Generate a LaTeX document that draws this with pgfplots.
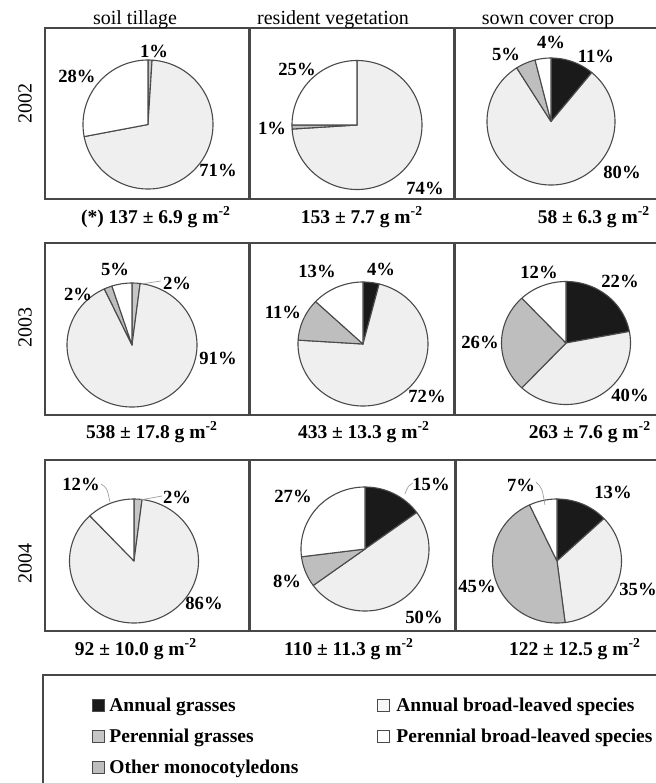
\documentclass[border=0pt]{standalone}
\usepackage{pgfplots}
\usepackage{pgfplotstable}
\pgfplotsset{compat=1.18}
\usepackage{fontspec}
\setmainfont{Liberation Serif}

\definecolor{cAG}{HTML}{1A1A1A}
\definecolor{cPG}{HTML}{C6C6C6}
\definecolor{cAB}{HTML}{EFEFEF}
\definecolor{cOM}{HTML}{BEBEBE}
\definecolor{cPB}{HTML}{FFFFFF}
\definecolor{pieline}{HTML}{4A4A4A}
\definecolor{framec}{HTML}{474747}
\definecolor{lead}{HTML}{A0A0A0}

% panel centre/radii (pixel units) and shares (%): annual grasses, perennial grasses,
% annual broad-leaved, other monocotyledons, perennial broad-leaved (clockwise from 12 o'clock)
\pgfplotstableread{
cx cy rx ry ag pg ab om pb
148 124.5 65 64.5 0 1 71 0 28
357 125 65 64.5 0 0 74 1 25
551 121.5 64 63.5 11 0 80 5 4
132 345 65 62 0 2 91 2 5
363 344 65 62 4 0 72 11 13
566 343 64.5 61.5 22 0 40 26 12
134 561 64.5 62 0 2 86 0 12
365 549 64 62 15 0 50 8 27
557 561 64.5 62 13 0 35 45 7
}\piedata

\newcommand{\slice}[7]{%
  \pgfmathtruncatemacro\ok{(#6-#5)>0.001}%
  \ifnum\ok=1
    \pgfmathsetmacro\tA{#5*3.6}%
    \pgfmathsetmacro\tB{#6*3.6}%
    \pgfmathtruncatemacro\ns{max(3,(#6-#5)*2)}%
    \edef\tmp{\noexpand\addplot[draw=pieline, line width=0.55pt, fill=#7, line join=round, domain=\tA:\tB, samples=\ns, variable=\noexpand\ang] ({#1+#3*sin(\noexpand\ang)},{#2-#4*cos(\noexpand\ang)}) -- (axis cs:#1,#2) -- cycle;}%
    \tmp
  \fi}

\newcommand{\getv}[2]{\pgfplotstablegetelem{#1}{#2}\of\piedata\expandafter\edef\csname p#2\endcsname{\pgfplotsretval}}

\newcommand{\drawpie}[1]{%
  \getv{#1}{cx}\getv{#1}{cy}\getv{#1}{rx}\getv{#1}{ry}%
  \getv{#1}{ag}\getv{#1}{pg}\getv{#1}{ab}\getv{#1}{om}\getv{#1}{pb}%
  \pgfmathsetmacro\sB{\pag}%
  \pgfmathsetmacro\sC{\sB+\ppg}%
  \pgfmathsetmacro\sD{\sC+\pab}%
  \pgfmathsetmacro\sE{\sD+\pom}%
  \slice{\pcx}{\pcy}{\prx}{\pry}{0}{\sB}{cAG}%
  \slice{\pcx}{\pcy}{\prx}{\pry}{\sB}{\sC}{cPG}%
  \slice{\pcx}{\pcy}{\prx}{\pry}{\sC}{\sD}{cAB}%
  \slice{\pcx}{\pcy}{\prx}{\pry}{\sD}{\sE}{cOM}%
  \slice{\pcx}{\pcy}{\prx}{\pry}{\sE}{100}{cPB}%
}

\newcommand{\fhead}{\fontsize{10}{12}\selectfont}
\newcommand{\fpct}{\fontsize{9.3}{11}\selectfont\bfseries}
\newcommand{\fsub}{\fontsize{9.75}{12}\selectfont\bfseries}
\newcommand{\gm}{g m\textsuperscript{-2}}

\begin{document}
\begin{tikzpicture}
\begin{axis}[name=ax, x=0.5pt, y=0.5pt, xmin=0, xmax=656, ymin=0, ymax=783,
  y dir=reverse, hide axis, clip=true, anchor=south west, at={(0,0)}]

% frames
\draw[framec, line width=0.75pt] (45,28) rectangle (662,199);
\draw[framec, line width=1.25pt] (249.5,28) -- (249.5,199);
\draw[framec, line width=1.25pt] (454.5,28) -- (454.5,199);
\draw[framec, line width=0.75pt] (45,243) rectangle (662,415);
\draw[framec, line width=1.25pt] (249.5,243) -- (249.5,415);
\draw[framec, line width=1.25pt] (454.5,243) -- (454.5,415);
\draw[framec, line width=0.75pt] (45,460) rectangle (662,631);
\draw[framec, line width=1.25pt] (249.5,460) -- (249.5,631);
\draw[framec, line width=1.25pt] (455.5,460) -- (455.5,631);

\drawpie{0}\drawpie{1}\drawpie{2}
\drawpie{3}\drawpie{4}\drawpie{5}
\drawpie{6}\drawpie{7}\drawpie{8}

% leader lines
\draw[lead, line width=0.35pt] (141,284) -- (161,281);
\draw[lead, line width=0.35pt] (101,484) .. controls (107,488) .. (110,502);
\draw[lead, line width=0.35pt] (140,500) -- (162,496);
\draw[lead, line width=0.35pt] (413,483) .. controls (408,486) .. (405,494);
\draw[lead, line width=0.35pt] (536,482) .. controls (542,488) .. (545,505);

% headers
\node[font=\fhead, anchor=base] at (135,24) {soil tillage};
\node[font=\fhead, anchor=base] at (333,24) {resident vegetation};
\node[font=\fhead, anchor=base] at (548,24) {sown cover crop};

% row labels
\node[font=\fhead, rotate=90] at (25,103) {2002};
\node[font=\fhead, rotate=90] at (25,327) {2003};
\node[font=\fhead, rotate=90] at (25,563) {2004};

% totals
\node[font=\fsub, anchor=base] at (156,223) {(*) 137 ± 6.9 \gm};
\node[font=\fsub, anchor=base] at (362,223) {153 ± 7.7 \gm};
\node[font=\fsub, anchor=base] at (594,223) {58 ± 6.3 \gm};
\node[font=\fsub, anchor=base] at (152,438) {538 ± 17.8 \gm};
\node[font=\fsub, anchor=base] at (364,438) {433 ± 13.3 \gm};
\node[font=\fsub, anchor=base] at (590,438) {263 ± 7.6 \gm};
\node[font=\fsub, anchor=base] at (136,655) {92 ± 10.0 \gm};
\node[font=\fsub, anchor=base] at (349,655) {110 ± 11.3 \gm};
\node[font=\fsub, anchor=base] at (575,655) {122 ± 12.5 \gm};

% percentage labels
\node[font=\fpct] at (154,51) {1\%};
\node[font=\fpct] at (77,76) {28\%};
\node[font=\fpct] at (218,170) {71\%};
\node[font=\fpct] at (297,69) {25\%};
\node[font=\fpct] at (272,128) {1\%};
\node[font=\fpct] at (425,188) {74\%};
\node[font=\fpct] at (506,54) {5\%};
\node[font=\fpct] at (551,42) {4\%};
\node[font=\fpct] at (596,56) {11\%};
\node[font=\fpct] at (622,172) {80\%};

\node[font=\fpct] at (115,269) {5\%};
\node[font=\fpct] at (78,294) {2\%};
\node[font=\fpct] at (177,283) {2\%};
\node[font=\fpct] at (218,358) {91\%};
\node[font=\fpct] at (317,271) {13\%};
\node[font=\fpct] at (283,312) {11\%};
\node[font=\fpct] at (381,269) {4\%};
\node[font=\fpct] at (427,396) {72\%};
\node[font=\fpct] at (539,272) {12\%};
\node[font=\fpct] at (620,281) {22\%};
\node[font=\fpct] at (480,342) {26\%};
\node[font=\fpct] at (630,395) {40\%};

\node[font=\fpct] at (81,484) {12\%};
\node[font=\fpct] at (177,497) {2\%};
\node[font=\fpct] at (204,603) {86\%};
\node[font=\fpct] at (293,496) {27\%};
\node[font=\fpct] at (287,581) {8\%};
\node[font=\fpct] at (431,484) {15\%};
\node[font=\fpct] at (424,617) {50\%};
\node[font=\fpct] at (521,485) {7\%};
\node[font=\fpct] at (613,492) {13\%};
\node[font=\fpct] at (477,586) {45\%};
\node[font=\fpct] at (638,589) {35\%};

% legend
\draw[framec, line width=0.75pt] (43,675) rectangle (700,800);
\draw[pieline, line width=0.5pt, fill=cAG] (92,699) rectangle (104,711);
\draw[pieline, line width=0.5pt, fill=cPG] (92,730) rectangle (104,742);
\draw[pieline, line width=0.5pt, fill=cOM] (92,761) rectangle (104,773);
\draw[pieline, line width=0.5pt, fill=cAB!50!white] (377,699) rectangle (389,711);
\draw[pieline, line width=0.5pt, fill=cPB] (377,730) rectangle (389,742);
\node[font=\fsub, anchor=base west, inner sep=0pt] at (109,711) {Annual grasses};
\node[font=\fsub, anchor=base west, inner sep=0pt] at (109,742) {Perennial grasses};
\node[font=\fsub, anchor=base west, inner sep=0pt] at (109,773) {Other monocotyledons};
\node[font=\fsub, anchor=base west, inner sep=0pt] at (396,711) {Annual broad-leaved species};
\node[font=\fsub, anchor=base west, inner sep=0pt] at (396,742) {Perennial broad-leaved species};
\end{axis}
\pgfresetboundingbox
\path[use as bounding box] (ax.south west) rectangle (ax.north east);
\end{tikzpicture}
\end{document}
